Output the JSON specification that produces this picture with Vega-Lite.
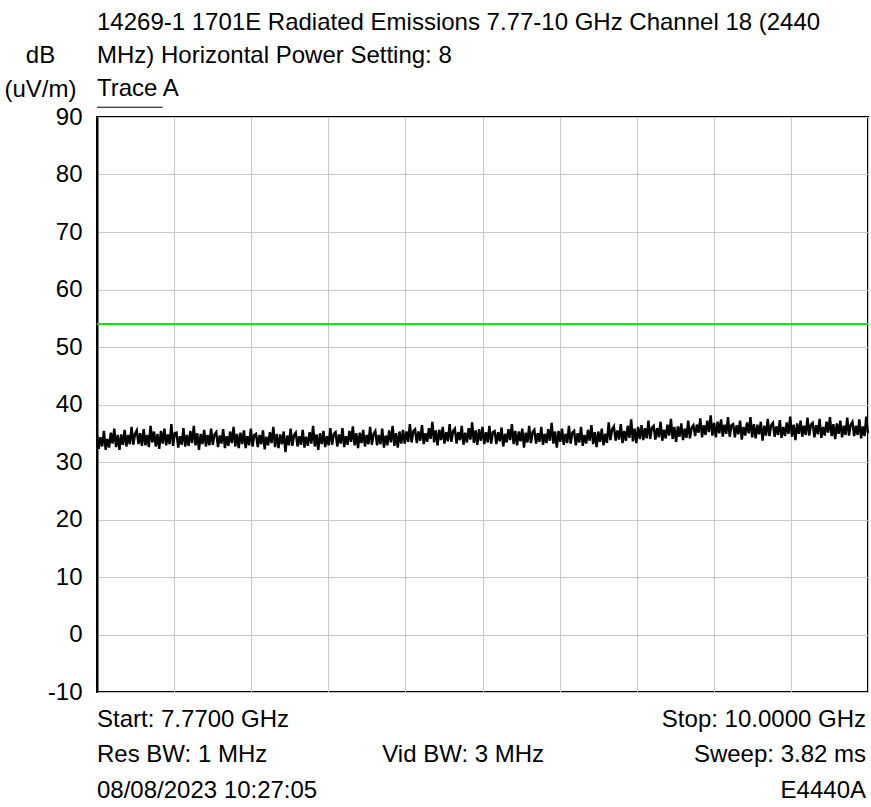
{
  "$schema": "https://vega.github.io/schema/vega-lite/v6.json",
  "width": 771,
  "height": 575,
  "autosize": "none",
  "padding": {"left": 97, "top": 117, "right": 3, "bottom": 115},
  "background": "white",
  "config": {
    "font": "Liberation Sans",
    "view": {"stroke": "black", "strokeWidth": 2},
    "axis": {"labelFont": "Liberation Sans", "titleFont": "Liberation Sans"}
  },
  "title": {
    "text": ["14269-1 1701E Radiated Emissions 7.77-10 GHz Channel 18 (2440", "MHz) Horizontal Power Setting: 8", "Trace A"],
    "anchor": "start",
    "frame": "group",
    "font": "Liberation Sans",
    "fontSize": 24,
    "fontWeight": "normal",
    "color": "black",
    "lineHeight": 33,
    "offset": 20,
    "dy": 78
  },
  "datasets": {
    "trace": [
{"ghz":7.770,"db":34.7},{"ghz":7.775,"db":32.3},{"ghz":7.780,"db":34.3},{"ghz":7.785,"db":32.7},{"ghz":7.790,"db":35.4},{"ghz":7.795,"db":32.1},{"ghz":7.800,"db":34.0},{"ghz":7.805,"db":32.5},{"ghz":7.810,"db":35.1},{"ghz":7.815,"db":33.2},
{"ghz":7.820,"db":35.8},{"ghz":7.825,"db":32.6},{"ghz":7.830,"db":34.7},{"ghz":7.835,"db":32.1},{"ghz":7.840,"db":34.8},{"ghz":7.845,"db":33.0},{"ghz":7.850,"db":35.6},{"ghz":7.855,"db":32.7},{"ghz":7.860,"db":34.7},{"ghz":7.865,"db":33.1},
{"ghz":7.870,"db":36.1},{"ghz":7.875,"db":33.0},{"ghz":7.880,"db":34.9},{"ghz":7.885,"db":35.5},{"ghz":7.890,"db":33.1},{"ghz":7.895,"db":35.0},{"ghz":7.900,"db":32.8},{"ghz":7.905,"db":35.7},{"ghz":7.910,"db":32.9},{"ghz":7.915,"db":34.7},
{"ghz":7.920,"db":32.6},{"ghz":7.925,"db":36.3},{"ghz":7.930,"db":33.4},{"ghz":7.935,"db":35.3},{"ghz":7.940,"db":32.7},{"ghz":7.945,"db":34.9},{"ghz":7.950,"db":32.3},{"ghz":7.955,"db":35.4},{"ghz":7.960,"db":33.2},{"ghz":7.965,"db":35.8},
{"ghz":7.970,"db":32.9},{"ghz":7.975,"db":34.8},{"ghz":7.980,"db":33.1},{"ghz":7.985,"db":36.6},{"ghz":7.990,"db":32.8},{"ghz":7.995,"db":35.0},{"ghz":8.000,"db":35.1},{"ghz":8.005,"db":32.5},{"ghz":8.010,"db":34.5},{"ghz":8.015,"db":33.0},
{"ghz":8.020,"db":35.9},{"ghz":8.025,"db":32.7},{"ghz":8.030,"db":34.7},{"ghz":8.035,"db":32.8},{"ghz":8.040,"db":35.4},{"ghz":8.045,"db":33.3},{"ghz":8.050,"db":36.3},{"ghz":8.055,"db":32.9},{"ghz":8.060,"db":35.0},{"ghz":8.065,"db":32.1},
{"ghz":8.070,"db":34.9},{"ghz":8.075,"db":33.1},{"ghz":8.080,"db":35.6},{"ghz":8.085,"db":32.7},{"ghz":8.090,"db":34.7},{"ghz":8.095,"db":32.9},{"ghz":8.100,"db":35.8},{"ghz":8.105,"db":33.0},{"ghz":8.110,"db":34.8},{"ghz":8.115,"db":35.2},
{"ghz":8.120,"db":32.6},{"ghz":8.125,"db":34.6},{"ghz":8.130,"db":33.2},{"ghz":8.135,"db":35.7},{"ghz":8.140,"db":32.4},{"ghz":8.145,"db":34.5},{"ghz":8.150,"db":32.8},{"ghz":8.155,"db":35.3},{"ghz":8.160,"db":33.3},{"ghz":8.165,"db":36.1},
{"ghz":8.170,"db":32.7},{"ghz":8.175,"db":34.9},{"ghz":8.180,"db":32.4},{"ghz":8.185,"db":35.1},{"ghz":8.190,"db":33.1},{"ghz":8.195,"db":35.5},{"ghz":8.200,"db":32.4},{"ghz":8.205,"db":34.5},{"ghz":8.210,"db":32.9},{"ghz":8.215,"db":35.8},
{"ghz":8.220,"db":32.7},{"ghz":8.225,"db":34.7},{"ghz":8.230,"db":34.9},{"ghz":8.235,"db":32.6},{"ghz":8.240,"db":34.7},{"ghz":8.245,"db":33.1},{"ghz":8.250,"db":35.5},{"ghz":8.255,"db":32.2},{"ghz":8.260,"db":34.4},{"ghz":8.265,"db":32.9},
{"ghz":8.270,"db":35.2},{"ghz":8.275,"db":33.3},{"ghz":8.280,"db":36.1},{"ghz":8.285,"db":32.6},{"ghz":8.290,"db":34.9},{"ghz":8.295,"db":32.4},{"ghz":8.300,"db":34.8},{"ghz":8.305,"db":33.1},{"ghz":8.310,"db":35.3},{"ghz":8.315,"db":31.7},
{"ghz":8.320,"db":34.6},{"ghz":8.325,"db":32.9},{"ghz":8.330,"db":35.8},{"ghz":8.335,"db":32.8},{"ghz":8.340,"db":34.7},{"ghz":8.345,"db":35.1},{"ghz":8.350,"db":32.7},{"ghz":8.355,"db":34.5},{"ghz":8.360,"db":33.0},{"ghz":8.365,"db":35.6},
{"ghz":8.370,"db":32.5},{"ghz":8.375,"db":34.4},{"ghz":8.380,"db":32.8},{"ghz":8.385,"db":35.2},{"ghz":8.390,"db":33.2},{"ghz":8.395,"db":36.3},{"ghz":8.400,"db":32.7},{"ghz":8.405,"db":34.8},{"ghz":8.410,"db":32.1},{"ghz":8.415,"db":35.0},
{"ghz":8.420,"db":33.1},{"ghz":8.425,"db":35.4},{"ghz":8.430,"db":32.6},{"ghz":8.435,"db":34.5},{"ghz":8.440,"db":32.9},{"ghz":8.445,"db":35.9},{"ghz":8.450,"db":33.0},{"ghz":8.455,"db":34.9},{"ghz":8.460,"db":35.2},{"ghz":8.465,"db":32.7},
{"ghz":8.470,"db":34.8},{"ghz":8.475,"db":33.2},{"ghz":8.480,"db":35.9},{"ghz":8.485,"db":32.6},{"ghz":8.490,"db":34.5},{"ghz":8.495,"db":33.0},{"ghz":8.500,"db":35.4},{"ghz":8.505,"db":33.5},{"ghz":8.510,"db":36.2},{"ghz":8.515,"db":32.9},
{"ghz":8.520,"db":35.0},{"ghz":8.525,"db":32.4},{"ghz":8.530,"db":35.1},{"ghz":8.535,"db":33.3},{"ghz":8.540,"db":35.6},{"ghz":8.545,"db":32.7},{"ghz":8.550,"db":34.7},{"ghz":8.555,"db":33.1},{"ghz":8.560,"db":36.1},{"ghz":8.565,"db":33.0},
{"ghz":8.570,"db":34.9},{"ghz":8.575,"db":35.4},{"ghz":8.580,"db":32.9},{"ghz":8.585,"db":34.7},{"ghz":8.590,"db":33.1},{"ghz":8.595,"db":35.8},{"ghz":8.600,"db":32.5},{"ghz":8.605,"db":34.6},{"ghz":8.610,"db":32.9},{"ghz":8.615,"db":35.5},
{"ghz":8.620,"db":33.4},{"ghz":8.625,"db":36.3},{"ghz":8.630,"db":32.8},{"ghz":8.635,"db":35.0},{"ghz":8.640,"db":32.5},{"ghz":8.645,"db":35.3},{"ghz":8.650,"db":33.2},{"ghz":8.655,"db":35.6},{"ghz":8.660,"db":33.2},{"ghz":8.665,"db":35.3},
{"ghz":8.670,"db":33.5},{"ghz":8.675,"db":36.6},{"ghz":8.680,"db":33.4},{"ghz":8.685,"db":35.4},{"ghz":8.690,"db":35.7},{"ghz":8.695,"db":33.3},{"ghz":8.700,"db":35.3},{"ghz":8.705,"db":33.7},{"ghz":8.710,"db":36.4},{"ghz":8.715,"db":33.1},
{"ghz":8.720,"db":35.0},{"ghz":8.725,"db":33.5},{"ghz":8.730,"db":35.9},{"ghz":8.735,"db":34.0},{"ghz":8.740,"db":37.0},{"ghz":8.745,"db":33.4},{"ghz":8.750,"db":35.5},{"ghz":8.755,"db":32.9},{"ghz":8.760,"db":35.6},{"ghz":8.765,"db":33.8},
{"ghz":8.770,"db":36.1},{"ghz":8.775,"db":33.2},{"ghz":8.780,"db":35.2},{"ghz":8.785,"db":33.6},{"ghz":8.790,"db":36.6},{"ghz":8.795,"db":33.5},{"ghz":8.800,"db":35.4},{"ghz":8.805,"db":35.8},{"ghz":8.810,"db":33.2},{"ghz":8.815,"db":35.2},
{"ghz":8.820,"db":33.8},{"ghz":8.825,"db":36.3},{"ghz":8.830,"db":33.0},{"ghz":8.835,"db":35.1},{"ghz":8.840,"db":33.4},{"ghz":8.845,"db":35.9},{"ghz":8.850,"db":33.9},{"ghz":8.855,"db":36.9},{"ghz":8.860,"db":33.3},{"ghz":8.865,"db":35.5},
{"ghz":8.870,"db":33.0},{"ghz":8.875,"db":35.7},{"ghz":8.880,"db":33.7},{"ghz":8.885,"db":36.1},{"ghz":8.890,"db":33.1},{"ghz":8.895,"db":35.2},{"ghz":8.900,"db":33.4},{"ghz":8.905,"db":36.3},{"ghz":8.910,"db":33.2},{"ghz":8.915,"db":35.2},
{"ghz":8.920,"db":35.4},{"ghz":8.925,"db":33.1},{"ghz":8.930,"db":35.2},{"ghz":8.935,"db":33.6},{"ghz":8.940,"db":36.0},{"ghz":8.945,"db":32.7},{"ghz":8.950,"db":34.9},{"ghz":8.955,"db":33.4},{"ghz":8.960,"db":35.7},{"ghz":8.965,"db":33.8},
{"ghz":8.970,"db":36.6},{"ghz":8.975,"db":33.1},{"ghz":8.980,"db":35.4},{"ghz":8.985,"db":32.9},{"ghz":8.990,"db":35.3},{"ghz":8.995,"db":33.6},{"ghz":9.000,"db":35.8},{"ghz":9.005,"db":32.5},{"ghz":9.010,"db":35.1},{"ghz":9.015,"db":33.4},
{"ghz":9.020,"db":36.3},{"ghz":9.025,"db":33.3},{"ghz":9.030,"db":35.2},{"ghz":9.035,"db":35.6},{"ghz":9.040,"db":33.2},{"ghz":9.045,"db":35.0},{"ghz":9.050,"db":33.5},{"ghz":9.055,"db":36.1},{"ghz":9.060,"db":33.0},{"ghz":9.065,"db":34.9},
{"ghz":9.070,"db":33.3},{"ghz":9.075,"db":35.7},{"ghz":9.080,"db":33.7},{"ghz":9.085,"db":36.8},{"ghz":9.090,"db":33.2},{"ghz":9.095,"db":35.3},{"ghz":9.100,"db":32.5},{"ghz":9.105,"db":35.4},{"ghz":9.110,"db":33.5},{"ghz":9.115,"db":35.8},
{"ghz":9.120,"db":33.0},{"ghz":9.125,"db":34.9},{"ghz":9.130,"db":33.3},{"ghz":9.135,"db":36.3},{"ghz":9.140,"db":33.2},{"ghz":9.145,"db":35.1},{"ghz":9.150,"db":35.4},{"ghz":9.155,"db":32.9},{"ghz":9.160,"db":35.0},{"ghz":9.165,"db":33.4},
{"ghz":9.170,"db":36.1},{"ghz":9.175,"db":32.8},{"ghz":9.180,"db":34.7},{"ghz":9.185,"db":33.2},{"ghz":9.190,"db":35.6},{"ghz":9.195,"db":33.7},{"ghz":9.200,"db":36.4},{"ghz":9.205,"db":33.1},{"ghz":9.210,"db":35.2},{"ghz":9.215,"db":32.6},
{"ghz":9.220,"db":35.3},{"ghz":9.225,"db":33.5},{"ghz":9.230,"db":35.8},{"ghz":9.235,"db":32.9},{"ghz":9.240,"db":34.9},{"ghz":9.245,"db":33.3},{"ghz":9.250,"db":36.9},{"ghz":9.255,"db":33.8},{"ghz":9.260,"db":35.7},{"ghz":9.265,"db":36.2},
{"ghz":9.270,"db":33.7},{"ghz":9.275,"db":35.5},{"ghz":9.280,"db":33.9},{"ghz":9.285,"db":36.6},{"ghz":9.290,"db":33.3},{"ghz":9.295,"db":35.4},{"ghz":9.300,"db":33.7},{"ghz":9.305,"db":36.3},{"ghz":9.310,"db":34.2},{"ghz":9.315,"db":37.4},
{"ghz":9.320,"db":33.6},{"ghz":9.325,"db":35.8},{"ghz":9.330,"db":33.3},{"ghz":9.335,"db":36.1},{"ghz":9.340,"db":34.0},{"ghz":9.345,"db":36.4},{"ghz":9.350,"db":33.8},{"ghz":9.355,"db":35.9},{"ghz":9.360,"db":34.1},{"ghz":9.365,"db":37.2},
{"ghz":9.370,"db":34.0},{"ghz":9.375,"db":36.0},{"ghz":9.380,"db":36.3},{"ghz":9.385,"db":33.9},{"ghz":9.390,"db":35.9},{"ghz":9.395,"db":34.3},{"ghz":9.400,"db":37.0},{"ghz":9.405,"db":33.7},{"ghz":9.410,"db":35.6},{"ghz":9.415,"db":34.1},
{"ghz":9.420,"db":36.5},{"ghz":9.425,"db":34.6},{"ghz":9.430,"db":37.5},{"ghz":9.435,"db":34.0},{"ghz":9.440,"db":36.1},{"ghz":9.445,"db":33.5},{"ghz":9.450,"db":36.2},{"ghz":9.455,"db":34.4},{"ghz":9.460,"db":36.7},{"ghz":9.465,"db":33.8},
{"ghz":9.470,"db":35.8},{"ghz":9.475,"db":34.2},{"ghz":9.480,"db":37.2},{"ghz":9.485,"db":34.1},{"ghz":9.490,"db":36.0},{"ghz":9.495,"db":36.4},{"ghz":9.500,"db":34.5},{"ghz":9.505,"db":36.5},{"ghz":9.510,"db":35.1},{"ghz":9.515,"db":37.6},
{"ghz":9.520,"db":34.3},{"ghz":9.525,"db":36.4},{"ghz":9.530,"db":34.7},{"ghz":9.535,"db":37.2},{"ghz":9.540,"db":35.2},{"ghz":9.545,"db":38.1},{"ghz":9.550,"db":34.6},{"ghz":9.555,"db":36.8},{"ghz":9.560,"db":34.3},{"ghz":9.565,"db":37.0},
{"ghz":9.570,"db":35.0},{"ghz":9.575,"db":37.4},{"ghz":9.580,"db":34.4},{"ghz":9.585,"db":36.5},{"ghz":9.590,"db":34.9},{"ghz":9.595,"db":37.8},{"ghz":9.600,"db":34.4},{"ghz":9.605,"db":36.4},{"ghz":9.610,"db":36.6},{"ghz":9.615,"db":34.3},
{"ghz":9.620,"db":36.4},{"ghz":9.625,"db":34.8},{"ghz":9.630,"db":37.2},{"ghz":9.635,"db":33.9},{"ghz":9.640,"db":36.1},{"ghz":9.645,"db":34.6},{"ghz":9.650,"db":36.9},{"ghz":9.655,"db":35.0},{"ghz":9.660,"db":37.8},{"ghz":9.665,"db":34.3},
{"ghz":9.670,"db":36.6},{"ghz":9.675,"db":34.1},{"ghz":9.680,"db":36.5},{"ghz":9.685,"db":34.8},{"ghz":9.690,"db":37.0},{"ghz":9.695,"db":33.7},{"ghz":9.700,"db":36.3},{"ghz":9.705,"db":34.6},{"ghz":9.710,"db":37.5},{"ghz":9.715,"db":34.5},
{"ghz":9.720,"db":36.4},{"ghz":9.725,"db":36.8},{"ghz":9.730,"db":34.4},{"ghz":9.735,"db":36.2},{"ghz":9.740,"db":34.7},{"ghz":9.745,"db":37.3},{"ghz":9.750,"db":34.2},{"ghz":9.755,"db":36.1},{"ghz":9.760,"db":34.5},{"ghz":9.765,"db":36.9},
{"ghz":9.770,"db":34.9},{"ghz":9.775,"db":37.9},{"ghz":9.780,"db":34.4},{"ghz":9.785,"db":36.5},{"ghz":9.790,"db":33.8},{"ghz":9.795,"db":36.7},{"ghz":9.800,"db":34.9},{"ghz":9.805,"db":37.2},{"ghz":9.810,"db":34.4},{"ghz":9.815,"db":36.3},
{"ghz":9.820,"db":34.7},{"ghz":9.825,"db":37.7},{"ghz":9.830,"db":34.6},{"ghz":9.835,"db":36.5},{"ghz":9.840,"db":36.8},{"ghz":9.845,"db":34.3},{"ghz":9.850,"db":36.4},{"ghz":9.855,"db":34.8},{"ghz":9.860,"db":37.5},{"ghz":9.865,"db":34.2},
{"ghz":9.870,"db":36.1},{"ghz":9.875,"db":34.6},{"ghz":9.880,"db":37.0},{"ghz":9.885,"db":35.1},{"ghz":9.890,"db":37.8},{"ghz":9.895,"db":34.5},{"ghz":9.900,"db":36.6},{"ghz":9.905,"db":34.0},{"ghz":9.910,"db":36.7},{"ghz":9.915,"db":34.9},
{"ghz":9.920,"db":37.2},{"ghz":9.925,"db":34.3},{"ghz":9.930,"db":36.3},{"ghz":9.935,"db":34.7},{"ghz":9.940,"db":37.7},{"ghz":9.945,"db":34.6},{"ghz":9.950,"db":36.5},{"ghz":9.955,"db":37.0},{"ghz":9.960,"db":34.5},{"ghz":9.965,"db":36.3},
{"ghz":9.970,"db":34.7},{"ghz":9.975,"db":37.4},{"ghz":9.980,"db":34.1},{"ghz":9.985,"db":36.2},{"ghz":9.990,"db":34.5},{"ghz":9.995,"db":37.9},{"ghz":10.000,"db":35.0}
    ],
    "limit": [{"ghz_start": 7.77, "ghz_end": 10.0, "db": 54}],
    "underline": [{"ghz_start": 7.77, "ghz_end": 7.96, "db": 91.7}],
    "footer_left": [
      {"label": "Start: 7.7700 GHz", "ghz": 7.77, "db": -14.8},
      {"label": "Res BW: 1 MHz", "ghz": 7.77, "db": -21.0},
      {"label": "08/08/2023 10:27:05", "ghz": 7.77, "db": -27.2}
    ],
    "footer_center": [
      {"label": "Vid BW: 3 MHz", "ghz": 8.829, "db": -21.0}
    ],
    "footer_right": [
      {"label": "Stop: 10.0000 GHz", "ghz": 10.0, "db": -14.8},
      {"label": "Sweep: 3.82 ms", "ghz": 10.0, "db": -21.0},
      {"label": "E4440A", "ghz": 10.0, "db": -27.2}
    ]
  },
  "layer": [
    {
      "data": {"name": "trace"},
      "mark": {"type": "line", "color": "black", "strokeWidth": 2.4, "interpolate": "linear"},
      "encoding": {
        "x": {
          "field": "ghz", "type": "quantitative",
          "scale": {"domain": [7.77, 10.0], "nice": false, "zero": false},
          "axis": {
            "values": [7.77, 7.993, 8.216, 8.439, 8.662, 8.885, 9.108, 9.331, 9.554, 9.777, 10.0],
            "labels": false, "ticks": false, "domain": false, "title": null,
            "grid": true, "gridColor": "#c8c8c8", "gridWidth": 1, "gridOpacity": 1
          }
        },
        "y": {
          "field": "db", "type": "quantitative",
          "scale": {"domain": [-10, 90], "nice": false, "zero": false},
          "axis": {
            "values": [-10, 0, 10, 20, 30, 40, 50, 60, 70, 80, 90],
            "labelExpr": "'' + datum.value",
            "ticks": false, "domain": true, "domainColor": "black", "domainWidth": 2,
            "labelFontSize": 24, "labelColor": "black", "labelPadding": 15,
            "grid": true, "gridColor": "#c8c8c8", "gridWidth": 1, "gridOpacity": 1,
            "title": ["dB", "(uV/m)"],
            "titleAngle": 0, "titleFontSize": 24, "titleFontWeight": "normal", "titleColor": "black",
            "titleAlign": "center", "titleBaseline": "middle", "titleLineHeight": 34,
            "titleX": -57, "titleY": -62
          }
        }
      }
    },
    {
      "data": {"name": "limit"},
      "mark": {"type": "rule", "color": "#00ee00", "strokeWidth": 2},
      "encoding": {
        "x": {"field": "ghz_start", "type": "quantitative"},
        "x2": {"field": "ghz_end"},
        "y": {"field": "db", "type": "quantitative"}
      }
    },
    {
      "data": {"name": "underline"},
      "mark": {"type": "rule", "color": "black", "strokeWidth": 1},
      "encoding": {
        "x": {"field": "ghz_start", "type": "quantitative"},
        "x2": {"field": "ghz_end"},
        "y": {"field": "db", "type": "quantitative"}
      }
    },
    {
      "data": {"name": "footer_left"},
      "mark": {"type": "text", "align": "left", "baseline": "middle", "fontSize": 24, "color": "black", "font": "Liberation Sans"},
      "encoding": {
        "x": {"field": "ghz", "type": "quantitative"},
        "y": {"field": "db", "type": "quantitative"},
        "text": {"field": "label"}
      }
    },
    {
      "data": {"name": "footer_center"},
      "mark": {"type": "text", "align": "center", "baseline": "middle", "fontSize": 24, "color": "black", "font": "Liberation Sans"},
      "encoding": {
        "x": {"field": "ghz", "type": "quantitative"},
        "y": {"field": "db", "type": "quantitative"},
        "text": {"field": "label"}
      }
    },
    {
      "data": {"name": "footer_right"},
      "mark": {"type": "text", "align": "right", "baseline": "middle", "fontSize": 24, "color": "black", "font": "Liberation Sans", "dx": -2},
      "encoding": {
        "x": {"field": "ghz", "type": "quantitative"},
        "y": {"field": "db", "type": "quantitative"},
        "text": {"field": "label"}
      }
    }
  ]
}
